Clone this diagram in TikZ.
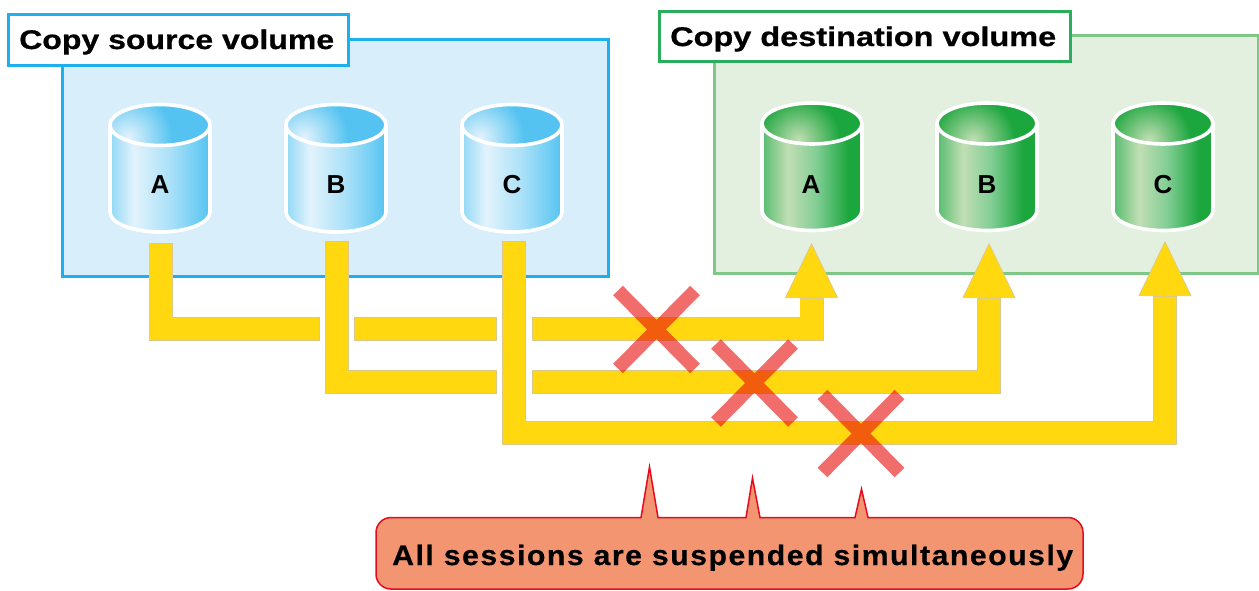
\documentclass[tikz,border=0pt]{standalone}
\usepackage{fontspec}
\setmainfont{Liberation Sans}
\usetikzlibrary{arrows.meta}
\definecolor{srcline}{HTML}{1DB0EC}
\definecolor{srcfill}{HTML}{D9EEFB}
\definecolor{dstline}{HTML}{7FC787}
\definecolor{dstfill}{HTML}{E3EFDF}
\definecolor{dsttag}{HTML}{2BAE5B}
\definecolor{tube}{HTML}{FFD80F}
\definecolor{tubeline}{HTML}{DCC88C}
\definecolor{xred}{HTML}{E80C0A}
\definecolor{callfill}{HTML}{F39570}
\definecolor{callline}{HTML}{E60B1E}
\definecolor{bluetop}{HTML}{55C3F1}
\definecolor{bluehi}{HTML}{E3F3FC}
\definecolor{greentop}{HTML}{1CA63E}
\definecolor{greenhi}{HTML}{C2DEB4}
\pgfdeclarehorizontalshading{bluebody}{100bp}{color(0bp)=(bluetop!65!white); color(25bp)=(bluetop!65!white); color(37bp)=(bluehi); color(55bp)=(bluetop!50!white); color(75bp)=(bluetop); color(100bp)=(bluetop)}
\pgfdeclarehorizontalshading{greenbody}{100bp}{color(0bp)=(greentop!75!white); color(25bp)=(greentop!75!white); color(38bp)=(greenhi); color(52bp)=(greentop!55!white); color(68bp)=(greentop); color(75bp)=(greentop); color(100bp)=(greentop)}
\tikzset{
  tagbox/.style={draw,fill=white,line width=3pt},
  tagtext/.style={anchor=base west,inner sep=0pt,font=\bfseries\fontsize{27}{27}\selectfont\addfontfeatures{FakeBold=0.6}},
  cyllabel/.style={anchor=base,inner sep=0pt,font=\bfseries\fontsize{26}{26}\selectfont},
  tubeout/.style={draw=tubeline,line width=24pt,line join=miter},
  tubein/.style={draw=tube,line width=22.6pt,line join=miter,shorten >=.7pt,shorten <=.7pt},
  tubepatch/.style={draw=tube,line width=22.6pt},
  headtip/.style={draw=tube,line width=2pt,-{Triangle[width=53pt,length=55pt,color=tubeline,fill=tube,line width=.7pt]}},
  xmark/.style={draw=xred,line width=13.5pt,opacity=.6},
}
% \cylinder{x}{top y}{body shading}{top colour}{highlight}{dx}{dy}{radius}
\newcommand{\drawcyl}[8]{%
  \shade[shading=#3] (#1-50,#2) -- (#1-50,#2+87) arc[start angle=180,end angle=360,x radius=50pt,y radius=20pt] -- (#1+50,#2) -- cycle;
  \begin{scope}
    \clip (#1,#2) ellipse[x radius=50pt,y radius=20.5pt];
    \fill[#4] (#1-52,#2-22) rectangle (#1+52,#2+22);
    \shade[inner color=#5,outer color=#4] (#1+#6,#2+#7) circle[radius=#8pt];
  \end{scope}
  \draw[white,line width=3.6pt] (#1-50,#2) -- (#1-50,#2+87) arc[start angle=180,end angle=360,x radius=50pt,y radius=20pt] -- (#1+50,#2);
  \draw[white,line width=3.6pt] (#1,#2) ellipse[x radius=50pt,y radius=20.5pt];
}
\begin{document}
\begin{tikzpicture}[x=1pt,y=-1pt]
\useasboundingbox (0,0) rectangle (1259,590);
% volumes
\draw[srcline,fill=srcfill,line width=3pt] (62.5,39.5) rectangle (608,276);
\draw[dstline,fill=dstfill,line width=3pt] (714,35) rectangle (1258,273);
\draw[tagbox,draw=srcline] (8.5,14.5) rectangle (348.5,65);
\draw[tagbox,draw=dsttag] (659.5,11.5) rectangle (1070.5,61.5);
\node[tagtext] (srctag) at (19,49) {\resizebox{315pt}{\height}{Copy source volume}};
\node[tagtext] (dsttag) at (670,46) {\resizebox{386pt}{\height}{Copy destination volume}};
% cylinders
\drawcyl{160}{125}{bluebody}{bluetop}{bluehi}{-32}{12}{44}
\drawcyl{336}{125}{bluebody}{bluetop}{bluehi}{-32}{12}{44}
\drawcyl{512}{125}{bluebody}{bluetop}{bluehi}{-32}{12}{44}
\drawcyl{812}{123.5}{greenbody}{greentop}{greenhi}{-14}{16}{42}
\drawcyl{987}{123.5}{greenbody}{greentop}{greenhi}{-14}{16}{42}
\drawcyl{1163}{123.5}{greenbody}{greentop}{greenhi}{-14}{16}{42}
\node[cyllabel] (sA) at (160,193) {A};
\node[cyllabel] (sB) at (336,193) {B};
\node[cyllabel] (sC) at (512,193) {C};
\node[cyllabel] (dA) at (811,193) {A};
\node[cyllabel] (dB) at (987,193) {B};
\node[cyllabel] (dC) at (1163,193) {C};
% connector anchor points
\coordinate (a0) at (160.5,243);
\coordinate (a1) at (160.5,329);
\coordinate (a2) at (320,329);
\coordinate (a3) at (354,329);
\coordinate (a4) at (497,329);
\coordinate (a5) at (532,329);
\coordinate (a6) at (811.5,329);
\coordinate (a7) at (811.5,298);
\coordinate (a8) at (811.5,243);
\coordinate (a9) at (811.5,295);
\coordinate (b0) at (337,241);
\coordinate (b1) at (337,382);
\coordinate (b2) at (497,382);
\coordinate (b3) at (532,382);
\coordinate (b4) at (989,382);
\coordinate (b5) at (989,298);
\coordinate (b6) at (989,243);
\coordinate (b7) at (989,295);
\coordinate (c0) at (514,241);
\coordinate (c1) at (514,433);
\coordinate (c2) at (1165,433);
\coordinate (c3) at (1165,296);
\coordinate (c4) at (1165,241);
\coordinate (c5) at (1165,293);
% connectors
\foreach \st in {tubeout,tubein}{
  \draw[\st] (a0) -- (a1) -- (a2);
  \draw[\st] (a3) -- (a4);
  \draw[\st] (a5) -- (a6) -- (a7);
  \draw[\st] (b0) -- (b1) -- (b2);
  \draw[\st] (b3) -- (b4) -- (b5);
  \draw[\st] (c0) -- (c1) -- (c2) -- (c3);
}
\draw[headtip] (a7) -- (a8);
\draw[headtip] (b5) -- (b6);
\draw[headtip] (c3) -- (c4);
\draw[tubepatch] (a7) -- (a9);
\draw[tubepatch] (b5) -- (b7);
\draw[tubepatch] (c3) -- (c5);
% crosses
\draw[xmark] (618,290.5) -- (695,368.5) (695,290.5) -- (618,368.5);
\draw[xmark] (716,344) -- (793,422) (793,344) -- (716,422);
\draw[xmark] (822.5,394.5) -- (899.5,472.5) (899.5,394.5) -- (822.5,472.5);
% callout
\draw[fill=callfill,draw=callline,line width=1.5pt,line join=miter]
  (391,517.5) -- (641,517.5) -- (649.5,467) -- (658,517.5) -- (746,517.5) -- (752.5,478) -- (760,517.5)
  -- (855,517.5) -- (861.5,489) -- (868,517.5) -- (1068,517.5)
  arc[start angle=90,end angle=0,radius=15pt] -- (1083,574)
  arc[start angle=0,end angle=-90,radius=15pt] -- (391,589)
  arc[start angle=270,end angle=180,radius=15pt] -- (376,532.5)
  arc[start angle=180,end angle=90,radius=15pt] -- cycle;
\node[anchor=base west,inner sep=0pt,font=\bfseries\fontsize{28}{28}\selectfont] (note) at (392,565)
  {\resizebox{681pt}{\height}{\addfontfeatures{LetterSpace=5,FakeBold=0.4}All sessions are suspended simultaneously}};
\end{tikzpicture}
\end{document}
